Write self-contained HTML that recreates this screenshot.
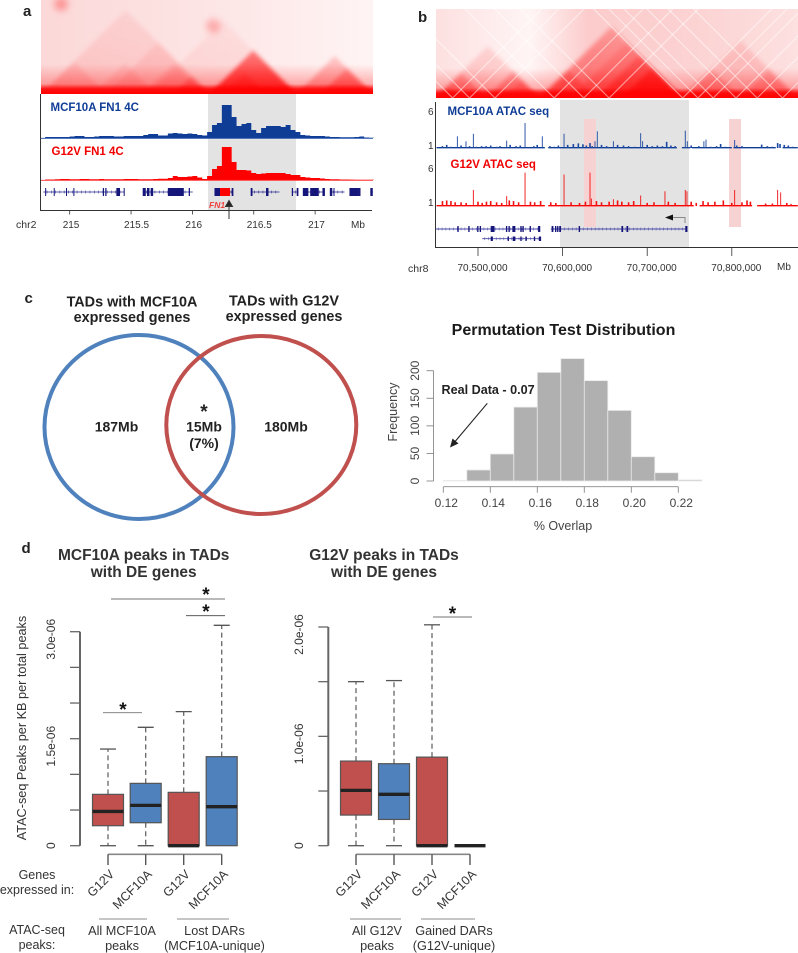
<!DOCTYPE html>
<html lang="en">
<head>
<meta charset="utf-8">
<title>Chromatin conformation figure</title>
<style>
html,body{margin:0;padding:0;background:#fff;}
svg{display:block;font-family:"Liberation Sans",sans-serif;}
</style>
</head>
<body>
<svg id="figure" width="798" height="953" viewBox="0 0 798 953" xmlns="http://www.w3.org/2000/svg">
<defs>
  <clipPath id="clipA"><rect x="41" y="0" width="332" height="94"/></clipPath>
  <clipPath id="clipB"><rect x="436" y="9" width="362" height="89"/></clipPath>
  <filter id="soft" x="-5%" y="-5%" width="110%" height="110%"><feGaussianBlur stdDeviation="2.2"/></filter>
  <filter id="softer" x="-50%" y="-50%" width="200%" height="200%"><feGaussianBlur stdDeviation="3.5"/></filter>
  <linearGradient id="bandHard" x1="0" y1="0" x2="0" y2="1"><stop offset="0" stop-color="#f00" stop-opacity="0"/><stop offset="0.5" stop-color="#f00" stop-opacity="0.85"/><stop offset="1" stop-color="#f00"/></linearGradient>
  <linearGradient id="bandSoft" x1="0" y1="0" x2="0" y2="1"><stop offset="0" stop-color="#f00" stop-opacity="0"/><stop offset="1" stop-color="#f00" stop-opacity="0.42"/></linearGradient>
  <linearGradient id="fadeA" x1="0" y1="0" x2="1" y2="0"><stop offset="0" stop-color="#fcd8d8"/><stop offset="0.55" stop-color="#fde6e6"/><stop offset="1" stop-color="#fff4f4"/></linearGradient>
  <linearGradient id="fadeB" x1="0" y1="0" x2="1" y2="0"><stop offset="0" stop-color="#fde0e0"/><stop offset="0.26" stop-color="#fff5f5"/><stop offset="0.42" stop-color="#fccccc"/><stop offset="0.65" stop-color="#fcd0d0"/><stop offset="1" stop-color="#fde0e0"/></linearGradient>
</defs>
<rect width="798" height="953" fill="#fff"/>

<text x="23" y="16" font-size="15" font-weight="bold" fill="#222">a</text>
<text x="418" y="22" font-size="15" font-weight="bold" fill="#222">b</text>
<text x="24.500" y="303" font-size="15" font-weight="bold" fill="#222">c</text>
<text x="21.500" y="553" font-size="15" font-weight="bold" fill="#222">d</text>

<!-- Panel a -->
<g id="heatA" clip-path="url(#clipA)"></g>
<rect x="208" y="94" width="88" height="116" fill="#e3e3e3"/>
<g id="tracksA"></g>
<text x="50.500" y="111" font-size="11.500" font-weight="bold" fill="#0f3d96">MCF10A FN1 4C</text>
<text x="51.500" y="155" font-size="11.500" font-weight="bold" fill="#f00000">G12V FN1 4C</text>
<g id="genesA"></g>
<text x="209" y="208" font-size="8.500" font-style="italic" font-weight="bold" fill="#f04040">FN1</text>
<path d="M229 219V205M225.500 206.500L229 200.500L232.500 206.500Z" fill="#222" stroke="#333" stroke-width="1"/>
<g id="axisA"></g>
<text x="16" y="228" font-size="10.500" fill="#333">chr2</text>
<text x="351" y="228" font-size="10" fill="#333">Mb</text>

<!-- Panel b -->
<g id="heatB" clip-path="url(#clipB)"></g>
<rect x="560" y="100" width="129" height="147" fill="#e3e3e3"/>
<rect x="584" y="119" width="12" height="108" fill="#f6d2d2"/>
<rect x="729" y="119" width="12" height="108" fill="#f6d2d2"/>
<g id="tracksB"></g>
<text x="447.500" y="115" font-size="11.500" font-weight="bold" fill="#0f3d96">MCF10A ATAC seq</text>
<text x="450.500" y="168" font-size="11.500" font-weight="bold" fill="#f00000">G12V ATAC seq</text>
<text x="428" y="115" font-size="10" fill="#333">6</text>
<text x="428" y="149" font-size="10" fill="#333">1</text>
<text x="428" y="172" font-size="10" fill="#333">6</text>
<text x="428" y="206" font-size="10" fill="#333">1</text>
<g id="genesB"></g>
<path d="M685 223V217.500H672" fill="none" stroke="#888" stroke-width="1"/>
<path d="M665 217.500L673 214.500V220.500Z" fill="#111"/>
<g id="axisB"></g>
<text x="408" y="272" font-size="10.500" fill="#333">chr8</text>
<text x="777" y="270" font-size="10" fill="#333">Mb</text>

<!-- Panel c -->
<text x="132" y="306.500" font-size="14.400" font-weight="bold" fill="#222" text-anchor="middle">TADs with MCF10A</text>
<text x="132" y="322" font-size="14.400" font-weight="bold" fill="#222" text-anchor="middle">expressed genes</text>
<text x="284" y="305.500" font-size="14.400" font-weight="bold" fill="#222" text-anchor="middle">TADs with G12V</text>
<text x="284" y="321" font-size="14.400" font-weight="bold" fill="#222" text-anchor="middle">expressed genes</text>
<ellipse cx="139" cy="427" rx="94.500" ry="92" fill="none" stroke="#4f81bd" stroke-width="4"/>
<ellipse cx="261.300" cy="425" rx="95" ry="89" fill="none" stroke="#c0504d" stroke-width="4"/>
<text x="116.500" y="431.500" font-size="14" font-weight="bold" fill="#222" text-anchor="middle">187Mb</text>
<text x="286" y="431.500" font-size="14" font-weight="bold" fill="#222" text-anchor="middle">180Mb</text>
<text x="204" y="418" font-size="19" font-weight="bold" fill="#222" text-anchor="middle">*</text>
<text x="204" y="431.500" font-size="14" font-weight="bold" fill="#222" text-anchor="middle">15Mb</text>
<text x="204" y="448" font-size="14" font-weight="bold" fill="#222" text-anchor="middle">(7%)</text>

<!-- Histogram -->
<text x="563.500" y="335" font-size="16" font-weight="bold" fill="#1a1a1a" text-anchor="middle">Permutation Test Distribution</text>
<g id="hist"></g>
<text x="397" y="412" font-size="12.500" fill="#444" text-anchor="middle" transform="rotate(-90 397 412)">Frequency</text>
<text x="563" y="530" font-size="12.500" fill="#444" text-anchor="middle">% Overlap</text>
<text x="441.500" y="394" font-size="12.600" font-weight="bold" fill="#222">Real Data - 0.07</text>
<path d="M487.300 403.300L453 444" fill="none" stroke="#222" stroke-width="1.100"/>
<path d="M450 447.500L452.500 438.500L458.500 443.500Z" fill="#222"/>

<!-- Panel d titles -->
<text x="143.700" y="560" font-size="15.500" font-weight="bold" fill="#333" text-anchor="middle">MCF10A peaks in TADs</text>
<text x="143.700" y="577" font-size="15.500" font-weight="bold" fill="#333" text-anchor="middle">with DE genes</text>
<text x="384" y="560" font-size="15.500" font-weight="bold" fill="#333" text-anchor="middle">G12V peaks in TADs</text>
<text x="384" y="577" font-size="15.500" font-weight="bold" fill="#333" text-anchor="middle">with DE genes</text>
<text x="26" y="728" font-size="12.700" fill="#333" text-anchor="middle" transform="rotate(-90 26 728)">ATAC-seq Peaks per KB per total peaks</text>
<g id="boxLeft"></g>
<g id="boxRight"></g>

<!-- Significance -->
<path d="M111 599H225" stroke="#444" stroke-width="0.800"/>
<path d="M186 615.700H225" stroke="#444" stroke-width="0.800"/>
<path d="M103 712.700H142" stroke="#777" stroke-width="0.800"/>
<path d="M433 617H472" stroke="#444" stroke-width="0.800"/>
<text x="206" y="601" font-size="19" font-weight="bold" fill="#111" text-anchor="middle">*</text>
<text x="206" y="618" font-size="19" font-weight="bold" fill="#111" text-anchor="middle">*</text>
<text x="123" y="716" font-size="19" font-weight="bold" fill="#111" text-anchor="middle">*</text>
<text x="452.500" y="620" font-size="19" font-weight="bold" fill="#111" text-anchor="middle">*</text>

<!-- Category labels -->
<text x="37" y="879" font-size="12.500" fill="#333" text-anchor="middle">Genes</text>
<text x="37" y="894" font-size="12.500" fill="#333" text-anchor="middle">expressed in:</text>
<text x="37" y="934" font-size="12.500" fill="#333" text-anchor="middle">ATAC-seq</text>
<text x="37" y="949" font-size="12.500" fill="#333" text-anchor="middle">peaks:</text>
<path d="M99 919H147" stroke="#666" stroke-width="0.800"/>
<path d="M177 919H229" stroke="#666" stroke-width="0.800"/>
<path d="M350 919H401" stroke="#666" stroke-width="0.800"/>
<path d="M421 919H475" stroke="#666" stroke-width="0.800"/>
<text x="122" y="935" font-size="12.700" fill="#333" text-anchor="middle">All MCF10A</text>
<text x="122" y="950" font-size="12.700" fill="#333" text-anchor="middle">peaks</text>
<text x="214.500" y="935" font-size="12.700" fill="#333" text-anchor="middle">Lost DARs</text>
<text x="214.500" y="950" font-size="12.700" fill="#333" text-anchor="middle">(MCF10A-unique)</text>
<text x="377" y="935" font-size="12.700" fill="#333" text-anchor="middle">All G12V</text>
<text x="377" y="950" font-size="12.700" fill="#333" text-anchor="middle">peaks</text>
<text x="454" y="935" font-size="12.700" fill="#333" text-anchor="middle">Gained DARs</text>
<text x="454" y="950" font-size="12.700" fill="#333" text-anchor="middle">(G12V-unique)</text>
</svg>

<script>
/* ---------- Panel a data ---------- */
const hicTadsAStart = [214.77,215.30,215.85,216.14,216.85,217.05,215.65,216.25,214.77,215.2,215.6];
const hicTadsAEnd   = [216.14,216.14,216.14,216.85,217.47,217.47,216.85,216.60,215.3,215.7,216.1];
const hicTadsAPower = [0.12,0.12,0.45,0.85,0.35,0.45,0.08,0.35,0.15,0.15,0.2];
const hicSpotsAMb = [214.93,216.17];
const hicSpotsAHeight = [90,68];
const hicSpotsAPower = [0.3,0.25];
const genomeTicksA = [215,215.5,216,216.5,217];
const genomeTickLabelsA = ["215","215.5","216","216.5","217"];
const fourCBinStart = 214.8;
const fourCBinSize = 0.04;
const mcf10a4C = [1,1,1,1,1,1.5,2,2,1,1,1.5,2,2,2,1.5,1.5,2,2,2,2,3,4,4,2.5,2.5,4.5,5,4.5,4,4.5,4,3,2.5,6,13,15,33,33,21,12,14,15,8,5,10,12,12,12,11,13,8,6,3,2.5,2,2,2,1.5,1,1,0.7,0.7,0.7,1,1.5,0.5,0.3];
const g12v4C = [0.5,0.5,0.7,1,1,0.7,0.7,1,1,0.7,0.7,1,0.7,0.7,0.7,0.7,1,1,1,0.7,0.7,0.7,1,1.3,1.3,2,4,3,3,3.5,4,2.5,1,4,11,14,33,33,18,10,10,9.5,7,6,6.5,7,7,7,7,6,5,5,3,2.5,2,2,1.5,1,0.7,0.7,0.5,0.5,0.4,0.3,0.3,0.3,0.3];
const geneAStart = [214.785,215.595,216.18,216.475,216.81,216.90,217.12,217.28,217.45];
const geneAEnd   = [215.446,216.003,216.334,216.71,216.864,217.08,217.24,217.37,217.47];
const exonAStart = [214.80,214.87,214.97,215.03,215.27,215.29,215.38,215.44,215.595,215.63,215.66,215.80,215.97,216.18,216.32,216.475,216.60,216.81,216.85,216.90,216.96,217.06,217.12,217.15,217.28,217.35,217.45];
const exonAEnd   = [214.805,214.875,214.975,215.035,215.28,215.30,215.41,215.446,215.62,215.65,215.68,215.93,215.98,216.225,216.334,216.49,216.62,216.82,216.864,216.945,217.03,217.08,217.14,217.155,217.35,217.37,217.47];
const fn1RedStart = 216.225;
const fn1RedEnd = 216.307;

/* ---------- Panel b data ---------- */
const hicTadsBStart = [450,450,510,573,640,670,742,742,810,573,610,450,530];
const hicTadsBEnd   = [573,510,573,742,742,742,878,810,878,640,742,480,573];
const hicTadsBPower = [0.2,0.4,0.4,0.5,0.45,0.7,0.2,0.3,0.3,0.35,0.2,0.3,0.3];
const hicSpotsBKb = [];
const hicSpotsBHeight = [];
const hicSpotsBPower = [];
const whiteBinsB = [470,490,520,590,625,655,742,760,778,805,830,860];
const genomeTicksB = [500000,600000,700000,800000];
const genomeTickLabelsB = ["70,500,000","70,600,000","70,700,000","70,800,000"];
const blueAtacKb  = [475.6,485.8,494.5,533.9,555.6,576,601.7,612.7,618.6,632.4,641,638.3,660,692.3,694.6,723,745,747.4,767,769.5,786.8,803.4,805.8,854.2,835.3,857,866.8,463,504.3,526,509.5,458,468,480,490,498,515,522,538,545,550,566,570,585,590,595,606,624,628,635,646,652,665,672,678,685,700,706,712,718,728,733,752,761,775,782,792,812,842,848,862,872];
const blueAtacVal = [1.9,1.1,2.3,1.2,4.05,1.9,2.3,0.65,0.75,0.8,2.7,1.1,1.1,2.4,1.1,1,2.8,1.1,1.1,1.35,0.65,1.3,0.4,0.8,0.55,0.65,0.4,0.5,0.3,0.3,0.3,0.3,0.2,0.4,0.3,0.2,0.4,0.2,0.5,0.3,0.4,0.3,0.5,0.3,0.2,0.4,0.5,0.6,0.4,0.3,0.5,0.3,0.5,0.4,0.3,0.2,0.5,0.3,0.4,0.3,0.4,0.3,0.4,0.3,0.2,0.3,0.2,0.3,0.3,0.2,0.5,0.2];
const redAtacKb  = [494.5,555.6,601.7,632.4,533.9,634,660,692.3,721,745,747,803.4,854.2,857.8,458,463,468,473,480,486,500,505,510,515,522,528,537,542,548,562,567,574,586,592,610,620,627,640,646,655,665,670,678,684,700,708,725,733,752,758,766,772,780,790,800,812,818,822,840,848,865,870];
const redAtacVal = [2.6,5.4,5.1,5.4,1.6,1.2,1.1,1.7,2.4,2.6,2.4,2.6,2.6,2.2,0.8,0.9,0.8,0.6,0.6,0.5,0.7,0.5,0.7,0.8,0.6,0.5,0.9,0.8,0.6,0.7,0.6,0.8,0.6,0.5,0.6,0.5,0.7,0.8,0.6,0.7,0.9,0.7,0.6,0.8,0.5,0.6,0.7,0.5,0.7,0.5,0.8,0.6,0.7,0.9,0.5,0.6,0.9,0.7,0.4,0.4,0.5,0.3];
const blueBaseStart = [451,583,741,753,802,860];
const blueBaseEnd   = [579,735,751,800,852,878];
const redBaseStart  = [451,583,762,830];
const redBaseEnd    = [579,755,824,878];
const geneBLine = [0,1,2];
const geneBStart = [450,505,586];
const geneBEnd   = [572.6,573,745];
const geneBRow   = [0,1,0];
const exonBKb  = [475.6,488.5,499,502,515,533,536,540.6,550,552.500,561,571,587,591,593.500,596,619,669.500,675.500,745];
const exonBWid = [1,1,1,1,4,1,1,3,1,1,1,2,1.500,1,1,1.500,1,1.500,1.500,2];
const exonB2Kb  = [515,535,541,550,556,566,572];
const exonB2Wid = [2,1,2.500,1,1,1,2];

/* ---------- Histogram data ---------- */
const histBinStarts = [0.12,0.13,0.14,0.15,0.16,0.17,0.18,0.19,0.20,0.21,0.22];
const histCounts = [1,20,49,134,197,222,182,128,44,15,2];
const histXTicks = [0.12,0.14,0.16,0.18,0.20,0.22];
const histXLabels = ["0.12","0.14","0.16","0.18","0.20","0.22"];
const histYTicks = [0,50,100,150,200];

/* ---------- Boxplot data (values x 1e-6) ---------- */
const boxCategories = ["G12V","MCF10A","G12V","MCF10A"];
const boxColors = ["#c0504d","#4f81bd","#c0504d","#4f81bd"];
const leftWhiskerHigh = [1.355,1.66,1.88,3.09];
const leftQ3 = [0.72,0.874,0.748,1.248];
const leftMedian = [0.48,0.565,0,0.547];
const leftQ1 = [0.28,0.322,0,0];
const leftWhiskerLow = [0,0,0,0];
const rightWhiskerHigh = [1.5,1.51,2.02,0];
const rightQ3 = [0.774,0.75,0.81,0];
const rightMedian = [0.506,0.47,0,0];
const rightQ1 = [0.28,0.24,0,0];
const rightWhiskerLow = [0,0,0,0];
const leftYTicks = [0,0.5,1,1.5,2,2.5,3];
const leftYLabelValues = [0,1.5,3];
const leftYLabels = ["0","1.5e-06","3.0e-06"];
const rightYTicks = [0,0.5,1,1.5,2];
const rightYLabelValues = [0,1,2];
const rightYLabels = ["0","1.0e-06","2.0e-06"];

/* ---------- Helpers ---------- */
const NS = "http://www.w3.org/2000/svg";
function mk(tag, attrs, parent, txt){
  const el = document.createElementNS(NS, tag);
  for (const k in attrs) el.setAttribute(k, attrs[k]);
  if (txt !== undefined) el.textContent = txt;
  parent.appendChild(el);
  return el;
}
const byId = id => document.getElementById(id);

/* Scales */
const xA = mb => 69.7 + (mb - 215) * 122.7;
const xB = kb => 478 + (kb - 500) * 0.846;
const y4CBlue = v => 138 - v;
const y4CRed = v => 180 - v;
const yAtacBlue = v => 148 - v * 6.17;
const yAtacRed = v => 206 - v * 6.17;
const xHist = v => 443.3 + (v - 0.12) * 2350;
const yHist = v => 481 - v * 0.5515;
const yBoxL = v => 845.7 - v * 71.33;
const yBoxR = v => 845.7 - v * 109.35;

/* ---------- Heatmaps ---------- */
function defGrad(id, power){
  const defs = document.querySelector("defs");
  const g = mk("linearGradient", {id:id, x1:0, y1:1, x2:0, y2:0}, defs);
  mk("stop", {offset:0, "stop-color":"#f00", "stop-opacity":power}, g);
  mk("stop", {offset:1, "stop-color":"#f00", "stop-opacity":power*0.5}, g);
}
function drawHeat(gId, xs, baseY, starts, ends, powers, bg, x0, w, top, spots, spotH, spotP){
  const g = byId(gId);
  const bgEl = mk("rect", {x:x0, y:top, width:w, height:baseY-top, fill:bg}, g);
  
  
  const soft = mk("g", {filter:"url(#soft)"}, g);
  
  
  starts.forEach((s, i) => {
    const a = xs(s), b = xs(ends[i]), h = (b - a) / 2, id = gId + "g" + i;
    defGrad(id, powers[i]);
    const t = mk("polygon", {points:`${a},${baseY} ${b},${baseY} ${(a+b)/2},${baseY-h}`, fill:`url(#${id})`}, soft);
    
    
  });
  spots.forEach((m, i) => {
    const c = mk("circle", {cx:xs(m), cy:baseY-spotH[i], r:7, fill:"#f00", "fill-opacity":spotP[i], filter:"url(#softer)"}, g);
    
    
  });
  const bandS = mk("rect", {x:x0, y:baseY-30, width:w, height:30, fill:"url(#bandSoft)"}, g);
  
  
  const band = mk("rect", {x:x0, y:baseY-10, width:w, height:10, fill:"url(#bandHard)"}, g);
  
  
}
drawHeat("heatA", xA, 94, hicTadsAStart, hicTadsAEnd, hicTadsAPower, "url(#fadeA)", 41, 332, 0, hicSpotsAMb, hicSpotsAHeight, hicSpotsAPower);
drawHeat("heatB", xB, 98, hicTadsBStart, hicTadsBEnd, hicTadsBPower, "url(#fadeB)", 436, 362, 9, hicSpotsBKb, hicSpotsBHeight, hicSpotsBPower);
whiteBinsB.forEach(kb => {
  const x = xB(kb);
  const v = mk("path", {d:`M${x-95} 3L${x} 98L${x+95} 3`, fill:"none", stroke:"#fff", "stroke-width":1.200, "stroke-opacity":0.5}, byId("heatB"));
  
  
});

/* ---------- 4C tracks ---------- */
function stepPath(vals, yFn){
  const base = yFn(0);
  let d = `M${xA(fourCBinStart)} ${base}`;
  vals.forEach((v, i) => {
    const m = fourCBinStart + i * fourCBinSize;
    d += `L${xA(m)} ${yFn(v)}L${xA(m + fourCBinSize)} ${yFn(v)}`;
  });
  return d + `L${xA(fourCBinStart + vals.length * fourCBinSize)} ${base}Z`;
}
const tA = byId("tracksA");
const blueTrack = mk("path", {d:stepPath(mcf10a4C, y4CBlue), fill:"#0f3d96"}, tA);


const blueBase = mk("path", {d:"M41 138.300H373", stroke:"#1f4ea8", "stroke-width":0.9}, tA);


const redTrack = mk("path", {d:stepPath(g12v4C, y4CRed), fill:"#f00"}, tA);


const redBase = mk("path", {d:"M41 180.300H373", stroke:"#ff3030", "stroke-width":0.9}, tA);



/* Genes a */
const gA = byId("genesA");
geneAStart.forEach((s, i) => {
  const l = mk("line", {x1:xA(s), x2:xA(geneAEnd[i]), y1:192, y2:192, stroke:"#25258a", "stroke-width":0.8}, gA);
  
  
  for (let m = s + 0.03; m < geneAEnd[i]; m += 0.035) {
    const c = mk("line", {x1:xA(m), x2:xA(m), y1:190.500, y2:193.500, stroke:"#25258a", "stroke-width":0.5}, gA);
    
    
  }
});
exonAStart.forEach((s, i) => {
  const e = mk("rect", {x:xA(s), y:188, width:Math.max(1, xA(exonAEnd[i]) - xA(s)), height:8, fill:"#15157a"}, gA);
  
  
});
const fn1Exon = mk("rect", {x:xA(fn1RedStart), y:188, width:xA(fn1RedEnd) - xA(fn1RedStart), height:8, fill:"#f00"}, gA);



/* Axis a */
const aA = byId("axisA");
const aAy = mk("path", {d:"M40.500 94V210.500H372", fill:"none", stroke:"#333", "stroke-width":1}, aA);


genomeTicksA.forEach((t, i) => {
  const tk = mk("line", {x1:xA(t), x2:xA(t), y1:210.500, y2:214.500, stroke:"#333", "stroke-width":0.8}, aA);
  
  
  const lb = mk("text", {x:xA(t) - 7, y:228, "font-size":10, fill:"#333", "text-anchor":"start"}, aA, genomeTickLabelsA[i]);
  
  
});

/* ---------- ATAC tracks ---------- */
const tB = byId("tracksB");
function atac(kbs, vals, yFn, color, name){
  kbs.forEach((k, i) => {
    const p = mk("line", {x1:xB(k), x2:xB(k), y1:yFn(0), y2:yFn(vals[i]), stroke:color, "stroke-width":vals[i] > 1 ? 0.9 : 1.6}, tB);
    
    
  });
}
function atacBase(starts, ends, yFn, color, name){
  starts.forEach((s, i) => {
    const b = mk("line", {x1:xB(s), x2:xB(ends[i]), y1:yFn(0)-0.3, y2:yFn(0)-0.3, stroke:color, "stroke-width":1.300}, tB);
    
    
  });
}
atacBase(blueBaseStart, blueBaseEnd, yAtacBlue, "#0f3d96", "mcf10a-atac-baseline");
atac(blueAtacKb, blueAtacVal, yAtacBlue, "#1a479f", "mcf10a-atac-peak");
atacBase(redBaseStart, redBaseEnd, yAtacRed, "#f00", "g12v-atac-baseline");
atac(redAtacKb, redAtacVal, yAtacRed, "#f01010", "g12v-atac-peak");

/* Genes b */
const gB = byId("genesB");
geneBLine.forEach(i => {
  const y = geneBRow[i] ? 238.700 : 229;
  const l = mk("line", {x1:xB(geneBStart[i]), x2:xB(geneBEnd[i]), y1:y, y2:y, stroke:"#4a4aa8", "stroke-width":0.9}, gB);
  
  
  for (let k = geneBStart[i] + 3; k < geneBEnd[i]; k += 4.500) {
    const c = mk("line", {x1:xB(k), x2:xB(k), y1:y-1.500, y2:y+1.500, stroke:"#4a4aa8", "stroke-width":0.5}, gB);
    
    
  }
});
exonBKb.forEach((k, i) => {
  const e = mk("rect", {x:xB(k), y:226, width:exonBWid[i] * 0.846 + 0.5, height:6, fill:"#15157a"}, gB);
  
  
});
exonB2Kb.forEach((k, i) => {
  const e = mk("rect", {x:xB(k), y:236.500, width:exonB2Wid[i] * 0.846 + 0.5, height:4.500, fill:"#15157a"}, gB);
  
  
});

/* Axis b */
const aB = byId("axisB");
const aBy = mk("path", {d:"M435.500 102V247.500H798", fill:"none", stroke:"#333", "stroke-width":1}, aB);


genomeTicksB.forEach((t, i) => {
  const x = 478 + (t - 500000) * 0.000846;
  const tk = mk("line", {x1:x, x2:x, y1:247.500, y2:256, stroke:"#333", "stroke-width":0.8}, aB);
  
  
  const lb = mk("text", {x:x+4.500, y:271, "font-size":10, fill:"#333", "text-anchor":"middle"}, aB, genomeTickLabelsB[i]);
  
  
});

/* ---------- Histogram ---------- */
const hG = byId("hist");
histBinStarts.forEach((b, i) => {
  const r = mk("rect", {x:xHist(b), y:yHist(histCounts[i]), width:xHist(b + 0.01) - xHist(b), height:yHist(0) - yHist(histCounts[i]), fill:"#b0b0b0", stroke:"#eaeaea", "stroke-width":0.8}, hG);
  
  
});
const hAxisX = mk("path", {d:`M${xHist(histXTicks[0])} 486.700H${xHist(histXTicks[histXTicks.length-1])}`, stroke:"#888", "stroke-width":0.9}, hG);


histXTicks.forEach((t, i) => {
  const tk = mk("line", {x1:xHist(t), x2:xHist(t), y1:486.700, y2:492.700, stroke:"#888", "stroke-width":0.9}, hG);
  
  
  const lb = mk("text", {x:xHist(t) + 3, y:507, "font-size":12, fill:"#444", "text-anchor":"middle"}, hG, histXLabels[i]);
  
  
});
const hAxisY = mk("path", {d:`M433.500 ${yHist(0)}V${yHist(200)}`, stroke:"#888", "stroke-width":0.9}, hG);


histYTicks.forEach(t => {
  const tk = mk("line", {x1:426.500, x2:433.500, y1:yHist(t), y2:yHist(t), stroke:"#888", "stroke-width":0.9}, hG);
  
  
  const lb = mk("text", {x:419, y:yHist(t), "font-size":12, fill:"#444", "text-anchor":"middle", transform:`rotate(-90 419 ${yHist(t)})`}, hG, String(t));
  
  
});

/* ---------- Boxplots ---------- */
function boxplot(gId, y, centers, axisX, labelX, hi, q3, med, q1, lo, ticks, lv, ll){
  const g = byId(gId);
  const yAxis = mk("path", {d:`M${axisX} ${y(0)}V${y(ticks[ticks.length-1])}`, stroke:"#666", "stroke-width":2}, g);
  
  
  ticks.forEach(t => {
    const tk = mk("line", {x1:axisX - 10, x2:axisX, y1:y(t), y2:y(t), stroke:"#666", "stroke-width":1.300}, g);
    
    
  });
  lv.forEach((v, i) => {
    const yy = v === 0 ? y(v) : y(v) + 7.500;
    const lb = mk("text", {x:labelX, y:yy, "font-size":12, fill:"#333", "text-anchor":"middle", transform:`rotate(-90 ${labelX} ${yy})`}, g, ll[i]);
    
    
  });
  const xAxis = mk("path", {d:`M${centers[0]} 854.300H${centers[3]}`, stroke:"#888", "stroke-width":1.600}, g);
  
  
  centers.forEach((c, i) => {
    const tk = mk("line", {x1:c, x2:c, y1:854.300, y2:865, stroke:"#555", "stroke-width":1.400}, g);
    
    
    const tx = c + 7, ty = 875;
    const lb = mk("text", {x:tx, y:ty, "font-size":12.500, fill:"#333", "text-anchor":"end", transform:`rotate(-45 ${tx} ${ty})`}, g, boxCategories[i]);
    
    
    if (hi[i] > q3[i]) {
      const up = mk("line", {x1:c, x2:c, y1:y(q3[i]), y2:y(hi[i]), stroke:"#666", "stroke-width":1.300, "stroke-dasharray":"5 3.500"}, g);
      
      
      const capU = mk("line", {x1:c-8, x2:c+8, y1:y(hi[i]), y2:y(hi[i]), stroke:"#555", "stroke-width":1.300}, g);
      
      
    }
    if (q1[i] > lo[i]) {
      const dn = mk("line", {x1:c, x2:c, y1:y(q1[i]), y2:y(lo[i]), stroke:"#666", "stroke-width":1.300, "stroke-dasharray":"5 3.500"}, g);
      
      
      const capL = mk("line", {x1:c-8, x2:c+8, y1:y(lo[i]), y2:y(lo[i]), stroke:"#555", "stroke-width":1.300}, g);
      
      
    }
    if (q3[i] > q1[i]) {
      const b = mk("rect", {x:c-15.500, y:y(q3[i]), width:31, height:y(q1[i]) - y(q3[i]), fill:boxColors[i], stroke:"#555", "stroke-width":1.200}, g);
      
      
    }
    const m = mk("line", {x1:c-15.500, x2:c+15.500, y1:y(med[i]), y2:y(med[i]), stroke:"#222", "stroke-width":3.300}, g);
    
    
  });
}
const leftCenters = [108,145.700,183.700,221.700];
const rightCenters = [356,394,432,470];
boxplot("boxLeft", yBoxL, leftCenters, 80, 55, leftWhiskerHigh, leftQ3, leftMedian, leftQ1, leftWhiskerLow, leftYTicks, leftYLabelValues, leftYLabels);
boxplot("boxRight", yBoxR, rightCenters, 328.300, 303, rightWhiskerHigh, rightQ3, rightMedian, rightQ1, rightWhiskerLow, rightYTicks, rightYLabelValues, rightYLabels);
</script>
</body>
</html>
